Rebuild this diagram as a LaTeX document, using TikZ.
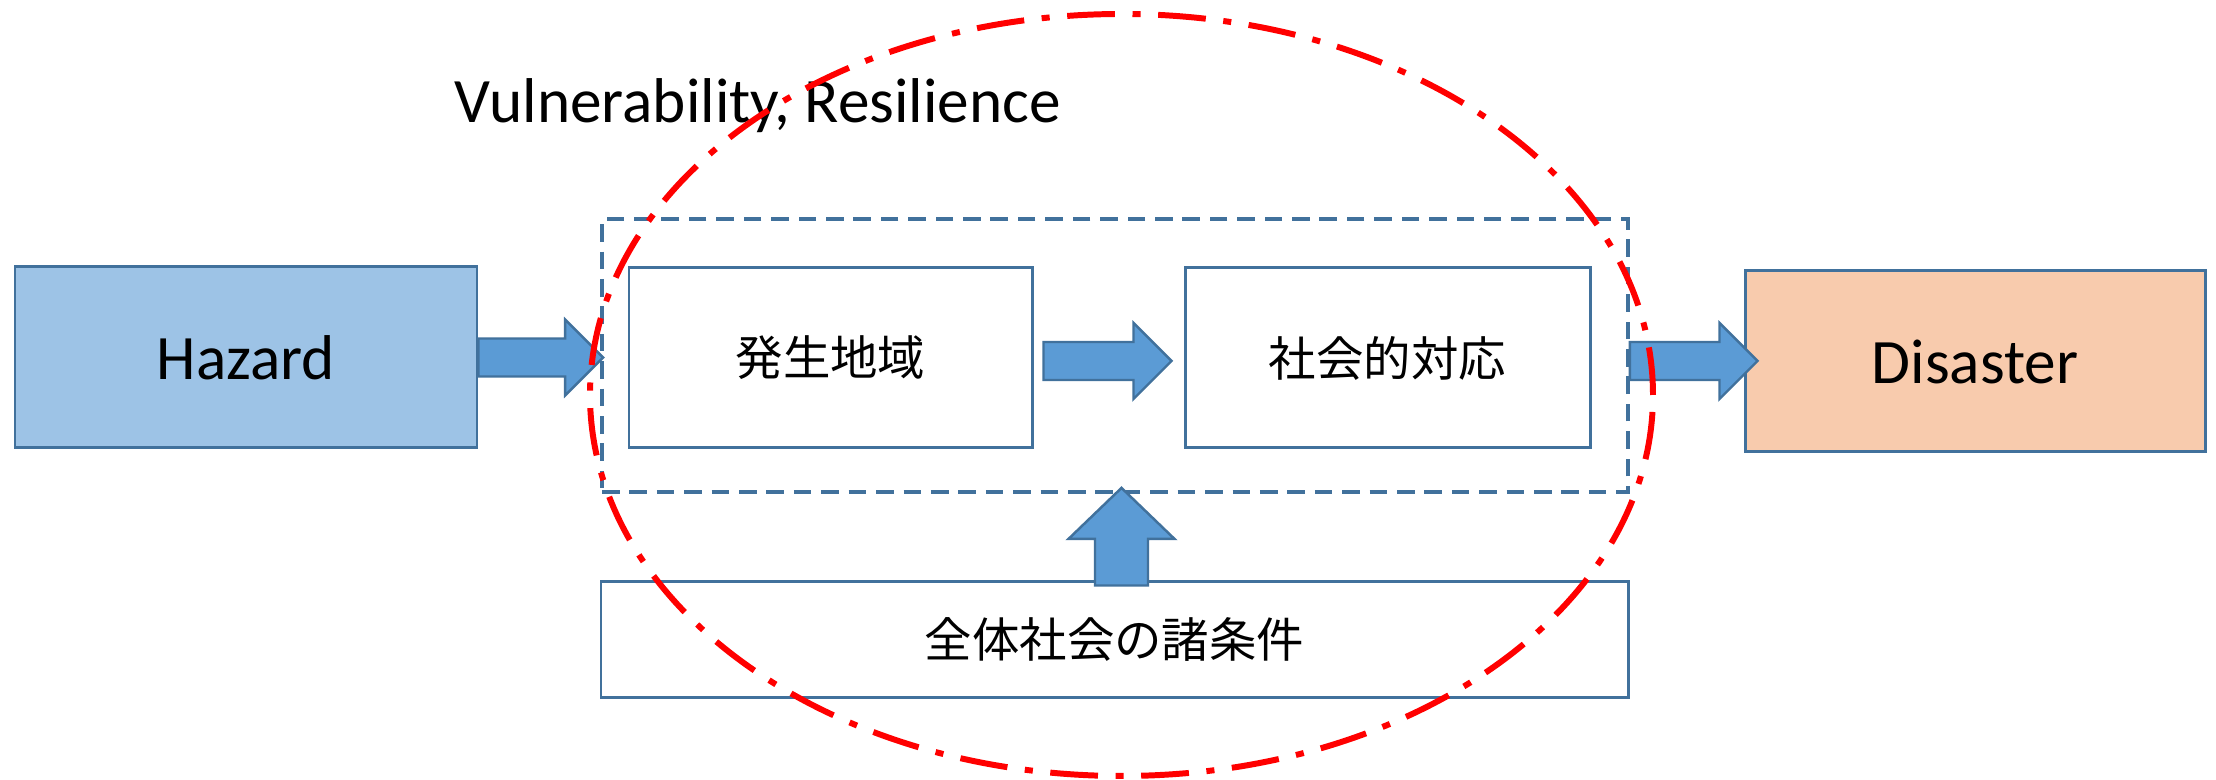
\documentclass[tikz,border=0pt]{standalone}
\usepackage{fontspec}
\setmainfont{Carlito}
\newfontfamily\jp{Noto Sans CJK JP}
\usetikzlibrary{calc}
\definecolor{lineblue}{HTML}{41719C}
\definecolor{arrowblue}{HTML}{5B9BD5}
\definecolor{hazardblue}{HTML}{9DC3E6}
\definecolor{disasterorange}{HTML}{F8CBAD}
\tikzstyle{box}=[draw=lineblue, line width=0.85pt, inner sep=0, fill=white]
\tikzstyle{bigbox}=[box, minimum width=4.6cm, minimum height=1.81cm, font=\fontsize{18}{20}\selectfont]
\tikzstyle{jpbox}=[box, minimum height=1.8cm, font=\jp\fontsize{13.5}{16}\selectfont]
\tikzstyle{fatarrow}=[draw=lineblue, fill=arrowblue, line width=0.7pt, line join=miter]
% horizontal block arrow from #1 to #2 (both named coordinates)
\newcommand{\harrow}[2]{%
	\draw[fatarrow] ($(#1)+(0,0.19)$) -- ($(#2 |- #1)+(-0.38,0.19)$) -- ++(0,0.19)
		-- (#2 |- #1) -- ++(-0.38,-0.38) -- ++(0,0.19) -- ($(#1)+(0,-0.19)$) -- cycle;}

\begin{document}
\begin{tikzpicture}
	\useasboundingbox (0,0) rectangle (22.16,7.80);

	\node[bigbox, fill=hazardblue, minimum width=4.62cm] (hazard) at (2.46,4.225) {Hazard};
	\node[bigbox, fill=disasterorange] (disaster) at (19.75,4.185) {Disaster};

	\node[draw=lineblue, line width=1.1pt, dash pattern=on 5pt off 2.8pt,
		minimum width=10.26cm, minimum height=2.73cm] (frame) at (11.15,4.245) {};

	\node[jpbox, minimum width=4.03cm] (region) at (8.305,4.22) {発生地域};
	\node[jpbox, minimum width=4.05cm] (response) at (13.875,4.22) {社会的対応};
	\node[box, minimum width=10.27cm, minimum height=1.16cm,
		font=\jp\fontsize{13.5}{16}\selectfont] (society) at (11.145,1.40) {全体社会の諸条件};

	\node[anchor=base, font=\fontsize{18}{20}\selectfont] (label) at (7.58,6.57) {Vulnerability, Resilience};

	% arrows between the boxes
	\coordinate (a1s) at (hazard.east);
	\coordinate (a1t) at ([xshift=0.3mm]frame.west);
	\coordinate (a2s) at ([xshift=1mm,yshift=-0.3mm]region.east);
	\coordinate (a2t) at ([xshift=-1.2mm]response.west);
	\coordinate (a3s) at ([yshift=-0.55mm]frame.east);
	\coordinate (a3t) at ([xshift=1.4mm]disaster.west);
	\harrow{a1s}{a1t}
	\harrow{a2s}{a2t}
	\harrow{a3s}{a3t}

	\coordinate (a4s) at ([xshift=0.7mm,yshift=-0.5mm]society.north);
	\coordinate (a4t) at ([xshift=0.6mm,yshift=0.6mm]frame.south);
	\draw[fatarrow] ($(a4s)+(-0.265,0)$) -- ($(a4t -| a4s)+(-0.265,-0.51)$) -- ++(-0.265,0)
		-- (a4t -| a4s) -- ++(0.53,-0.51) -- ++(-0.265,0) -- ($(a4s)+(0.265,0)$) -- cycle;

	% vulnerability ellipse
	\draw[red, line width=1.7pt, dash pattern=on 13.6pt off 5pt on 2.3pt off 5pt]
		(11.215,3.85) ellipse [x radius=5.315, y radius=3.81];
\end{tikzpicture}
\end{document}
